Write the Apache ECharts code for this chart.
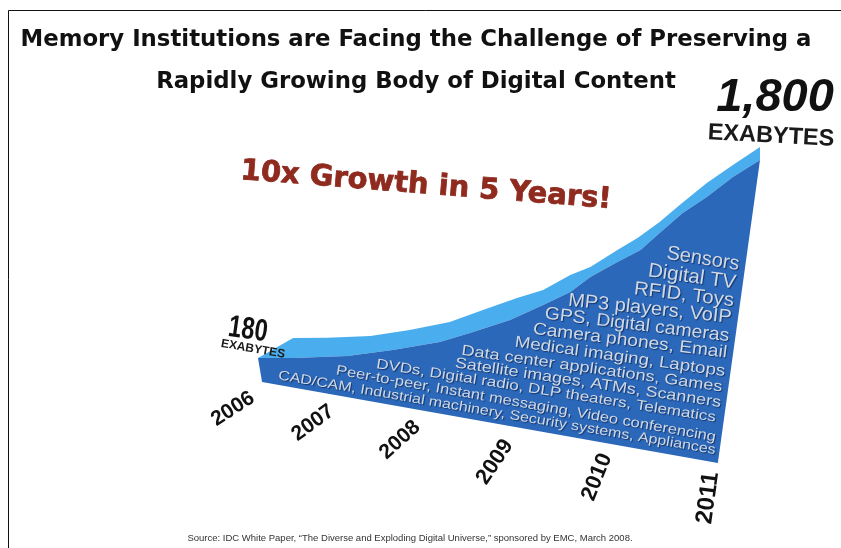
<!DOCTYPE html>
<html>
<head>
<meta charset="utf-8">
<style>html,body{margin:0;padding:0;background:#fff}#chart{width:841px;height:548px}</style>
<script src="https://cdn.jsdelivr.net/npm/echarts@6/dist/echarts.min.js"></script>
</head>
<body>
<div id="chart"></div>
<script>
// Digital universe growth wedge: exabytes per year, with a foreshortened floor.
const yearLabels = ['2006', '2007', '2008', '2009', '2010', '2011'];
const startValue = 180;
const peakValue = 1800;

// Outer edge of the light band: [year position, exabytes]
const outerEdge = [
  [2006.00, 10], [2006.35, 180], [2006.69, 182], [2007.12, 197], [2007.51, 248],
  [2007.91, 316], [2008.24, 417], [2008.58, 519], [2008.84, 587], [2009.11, 714],
  [2009.31, 782], [2009.58, 926], [2009.78, 1028], [2010.00, 1164], [2010.20, 1308],
  [2010.47, 1495], [2010.73, 1647], [2011.00, 1800]
];
// Front face top edge
const faceEdge = [
  [2006.00, 10], [2006.35, 10], [2006.89, 27], [2007.34, 78], [2007.81, 146],
  [2008.11, 222], [2008.51, 333], [2008.84, 460], [2009.11, 570], [2009.31, 697],
  [2009.58, 825], [2009.81, 926], [2010.00, 1071], [2010.23, 1240], [2010.47, 1376],
  [2010.73, 1546], [2011.00, 1690]
];
// Receding floor line under the front face
const floorEdge = [[2006.04, -193], [2010.58, -880]];

const sourceTypes = [
  'Sensors', 'Digital TV', 'RFID, Toys', 'MP3 players, VoIP', 'GPS, Digital cameras',
  'Camera phones, Email', 'Medical imaging, Laptops', 'Data center applications, Games',
  'Satellite images, ATMs, Scanners', 'DVDs, Digital radio, DLP theaters, Telematics',
  'Peer-to-peer, Instant messaging, Video conferencing',
  'CAD/CAM, Industrial machinery, Security systems, Appliances'
];

// Placement of the slanted lines on the face:
// [centre x, centre y, degrees clockwise, font px, horizontal stretch]
const sourceLayout = [
  [703, 259, 9, 20, 1], [692, 277, 8, 20, 1.02], [684, 295, 7, 19, 1.07], [650, 309, 6, 19, 1.05],
  [637, 325, 7, 18, 1.08], [630, 341, 7, 17, 1.13], [620, 357, 8, 16, 1.17], [592, 369, 8, 15, 1.21],
  [588, 383, 8.5, 15, 1.2], [546, 391, 9, 14, 1.22], [526, 404, 10, 14, 1.18], [497, 413, 9.7, 13.5, 1.19]
];
// Placement of the year captions: [centre x, centre y, degrees counter-clockwise, font px]
const yearLayout = [
  [233, 409, 33, 21], [313, 423, 36, 21], [400, 440, 42, 21],
  [495, 462, 56, 22], [597, 477, 68, 22], [708, 498, 82, 24]
];

const toPolygon = (api, pts) => pts.map(p => api.coord(p));
const shapeItem = (fill, points) => (params, api) => ({
  type: 'polygon',
  shape: { points: toPolygon(api, points) },
  style: { fill: fill, stroke: null }
});

// Text placed by centre, angle counter-clockwise in degrees
const rotated = (text, x, y, deg, font, stretch) => ({
  type: 'text',
  x: x, y: y, z: 100,
  scaleX: stretch || 1,
  rotation: deg * Math.PI / 180,
  style: Object.assign({ text: text, textAlign: 'center', textVerticalAlign: 'middle' }, font),
  silent: true
});

const heading = { fontFamily: 'DejaVu Sans', fontWeight: 'bold', fontSize: 22.8, fill: '#111' };
const graphics = [
  { type: 'rect', shape: { x: 8.5, y: 10.5, width: 840, height: 545 },
    style: { fill: 'none', stroke: '#111', lineWidth: 1 }, silent: true },
  rotated('Memory Institutions are Facing the Challenge of Preserving a', 416, 40, 0, heading),
  rotated('Rapidly Growing Body of Digital Content', 416, 82, 0, heading),
  rotated('10x Growth in 5 Years!', 426, 186, -4.5,
    { fontFamily: 'DejaVu Sans', fontWeight: 'bold', fontSize: 29, fill: '#8f2a1f', stroke: '#8f2a1f', lineWidth: 0.8 }),
  rotated('EXABYTES', 771, 136, -3,
    { fontFamily: 'Liberation Sans', fontWeight: 'bold', fontSize: 23.5, fill: '#1a1a1a' }),
  rotated(startValue.toLocaleString('en-US'), 248, 330, -8,
    { fontFamily: 'Liberation Sans', fontWeight: 'bold', fontSize: 31, fill: '#111' }, 0.76),
  rotated('EXABYTES', 253, 349, -10,
    { fontFamily: 'Liberation Sans', fontWeight: 'bold', fontSize: 12, fill: '#1a1a1a' }),
  rotated('Source: IDC White Paper, \u201cThe Diverse and Exploding Digital Universe,\u201d sponsored by EMC, March 2008.',
    410, 538, 0, { fontFamily: 'Liberation Sans', fontSize: 9.5, fill: '#333' })
];
yearLabels.forEach((y, i) => {
  const l = yearLayout[i];
  graphics.push(rotated(y, l[0], l[1], l[2],
    { fontFamily: 'Liberation Sans', fontWeight: 'bold', fontSize: l[3], fill: '#111' }));
});
sourceTypes.forEach((t, i) => {
  const l = sourceLayout[i];
  graphics.push(rotated(t, l[0], l[1], -l[2],
    { fontFamily: 'Liberation Sans', fontSize: l[3], fill: '#d0d8e4',
      textShadowColor: 'rgba(10,30,70,0.7)', textShadowBlur: 1, textShadowOffsetX: 1, textShadowOffsetY: 1 }, l[4]));
});

const chart = echarts.init(document.getElementById('chart'), null, { renderer: 'canvas' });
chart.setOption({
  animation: false,
  backgroundColor: '#ffffff',
  grid: { left: 258, top: 147, width: 502, height: 316 },
  xAxis: { type: 'value', min: 2006, max: 2011, show: false },
  yAxis: { type: 'value', min: -880, max: 1800, show: false },
  series: [
    {
      name: 'Band', type: 'custom', coordinateSystem: 'cartesian2d', silent: true, z: 2,
      data: [[2006, 0]], encode: { x: 0, y: 1 },
      renderItem: shapeItem('#4aaeee', outerEdge.concat(faceEdge.slice().reverse()))
    },
    {
      name: 'Face', type: 'custom', coordinateSystem: 'cartesian2d', silent: true, z: 3,
      data: [[2006, 0]], encode: { x: 0, y: 1 },
      renderItem: shapeItem('#2b68ba', faceEdge.concat(floorEdge.slice().reverse()))
    },
    {
      name: 'Peak', type: 'scatter', symbolSize: 0, silent: true, z: 5,
      itemStyle: { opacity: 1 },
      data: [
        { value: [2011, peakValue], label: { fontSize: 47, fontWeight: 'bold', fontStyle: 'italic', offset: [15, -49], formatter: () => peakValue.toLocaleString('en-US') } }
      ],
      label: { show: true, position: 'inside', fontFamily: 'Liberation Sans', color: '#111', opacity: 1 }
    }
  ],
  graphic: { elements: graphics }
});
</script>
</body>
</html>
